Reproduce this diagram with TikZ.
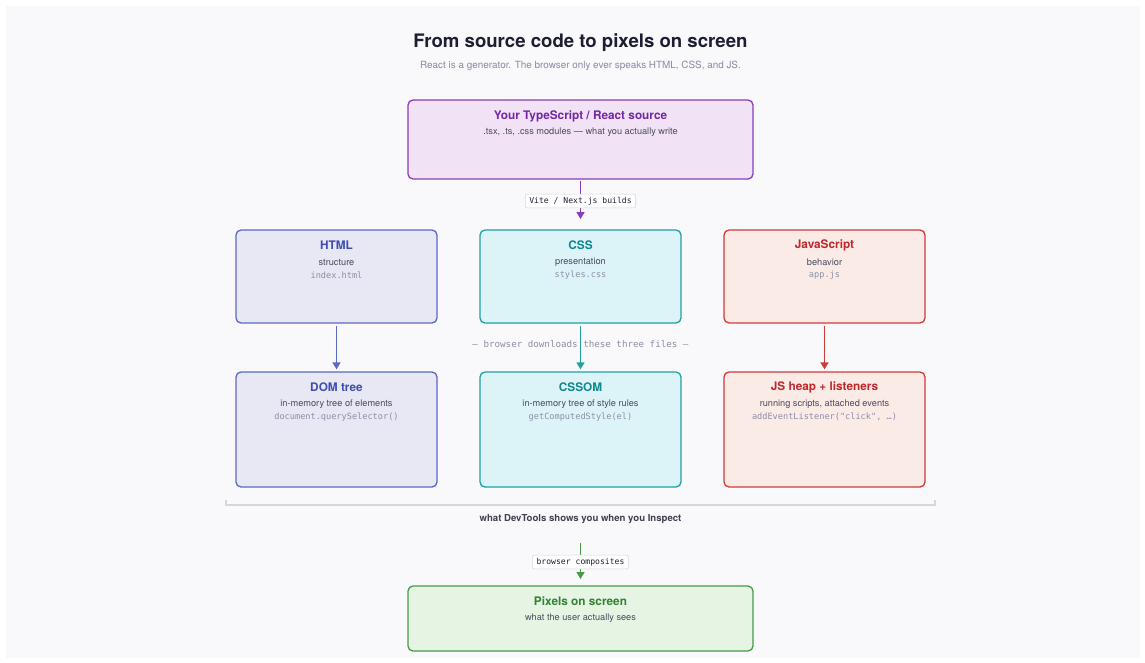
\documentclass[tikz,border=0pt]{standalone}
\usepackage{fontspec}
\setmainfont{TeX Gyre Heros}
\setmonofont{DejaVu Sans Mono}
\usetikzlibrary{arrows.meta,calc}
\definecolor{panel}{HTML}{F9F9FB}
\definecolor{ink}{HTML}{1E1E32}
\definecolor{sub}{HTML}{8A8AA2}
\definecolor{body}{HTML}{4A4A5E}
\definecolor{mono}{HTML}{8E8EA4}
\definecolor{purB}{HTML}{8A3DB8}\definecolor{purF}{HTML}{F1E3F5}\definecolor{purT}{HTML}{7526A8}
\definecolor{indB}{HTML}{5A68C4}\definecolor{indF}{HTML}{E8E7F4}\definecolor{indT}{HTML}{3E4EB0}
\definecolor{tealB}{HTML}{22A0A0}\definecolor{tealF}{HTML}{DCF4F8}\definecolor{tealT}{HTML}{11878F}
\definecolor{redB}{HTML}{D03A3A}\definecolor{redF}{HTML}{FAEBE7}\definecolor{redT}{HTML}{C0282C}
\definecolor{grnB}{HTML}{4A9A48}\definecolor{grnF}{HTML}{E6F4E4}\definecolor{grnT}{HTML}{2E852E}
\definecolor{rule}{HTML}{D6D6DE}
\tikzset{
  x=1pt,y=-1pt,
  box/.style={draw=#1B,fill=#1F,line width=1.3pt,rounded corners=5pt,inner sep=0pt,minimum width=201pt,minimum height=93pt},
  ttl/.style={text=#1T,font=\fontsize{11.8}{14}\selectfont\bfseries,inner sep=0pt,anchor=center,yshift=-1.2pt},
  bod/.style={text=body,font=\fontsize{9.2}{11}\selectfont,inner sep=0pt,yshift=-1.2pt},
  mon/.style={text=mono,font=\fontsize{8.6}{10}\ttfamily,inner sep=0pt,yshift=-1pt},
  tag/.style={draw=rule,fill=white,rounded corners=2pt,line width=0.6pt,font=\fontsize{8.1}{10}\ttfamily,text=ink,inner xsep=4pt,inner ysep=3pt,yshift=-1pt},
  arr/.style={draw=#1,line width=1.4pt,-{Triangle[length=7pt,width=8pt]}},
}
\begin{document}
\begin{tikzpicture}
\useasboundingbox (0,0) rectangle (1145,662);
\fill[panel] (6,6) rectangle (1140,658);
% title
\node[text=ink,font=\fontsize{18.6}{22}\selectfont\bfseries,inner sep=0pt] (title) at (580.5,42.5) {From source code to pixels on screen};
\node[text=sub,font=\fontsize{9.9}{12}\selectfont,inner sep=0pt] (subtitle) at (580.5,65.5) {React is a generator. The browser only ever speaks HTML, CSS, and JS.};
% source
\node[box=pur,minimum width=345pt,minimum height=79pt] (src) at (580.5,139.5) {};
\node[ttl=pur] (srcT) at (580.5,115) {Your TypeScript / React source};
\node[bod] (srcB) at (580.5,131) {.tsx, .ts, .css modules — what you actually write};
% row 1
\node[box=ind] (html) at (336.5,276.5) {};
\node[ttl=ind] (htmlT) at (336.5,244) {HTML};
\node[bod] (htmlB) at (336.5,261) {structure};
\node[mon] (htmlM) at (336.5,274) {index.html};
\node[box=teal] (css) at (580.5,276.5) {};
\node[ttl=teal] (cssT) at (580.5,244) {CSS};
\node[bod] (cssB) at (580.5,261) {presentation};
\node[mon] (cssM) at (580.5,274) {styles.css};
\node[box=red] (js) at (824.5,276.5) {};
\node[ttl=red] (jsT) at (824.5,244) {JavaScript};
\node[bod] (jsB) at (824.5,261) {behavior};
\node[mon] (jsM) at (824.5,274) {app.js};
% row 2
\node[box=ind,minimum height=115pt] (dom) at (336.5,429.5) {};
\node[ttl=ind] (domT) at (336.5,386) {DOM tree};
\node[bod] (domB) at (336.5,403) {in-memory tree of elements};
\node[mon] (domM) at (336.5,416) {document.querySelector()};
\node[box=teal,minimum height=115pt] (cssom) at (580.5,429.5) {};
\node[ttl=teal] (cssomT) at (580.5,386) {CSSOM};
\node[bod] (cssomB) at (580.5,403) {in-memory tree of style rules};
\node[mon] (cssomM) at (580.5,416) {getComputedStyle(el)};
\node[box=red,minimum height=115pt] (heap) at (824.5,429.5) {};
\node[ttl=red] (heapT) at (824.5,386) {JS heap + listeners};
\node[bod] (heapB) at (824.5,403) {running scripts, attached events};
\node[mon] (heapM) at (824.5,416) {addEventListener("click", …)};
% pixels
\node[box=grn,minimum width=345pt,minimum height=65pt] (pix) at (580.5,618.5) {};
\node[ttl=grn] (pixT) at (580.5,600) {Pixels on screen};
\node[bod] (pixB) at (580.5,617) {what the user actually sees};
% downloads note (drawn under the teal arrow)
\node[text=mono,font=\fontsize{9.2}{11}\ttfamily,inner sep=0pt] (dl) at (580.5,344) {— browser downloads these three files —};
% arrows
\coordinate (a1) at (580.5,219);
\draw[arr=purB] ($(src.south)+(0,1)$) -- (a1);
\node[tag] (viteTag) at (580.5,200) {Vite / Next.js builds};
\draw[arr=indB,shorten <=2pt,shorten >=2pt] (html.south) -- (dom.north);
\draw[arr=tealB,shorten <=2pt,shorten >=2pt] (css.south) -- (cssom.north);
\draw[arr=redB,shorten <=2pt,shorten >=2pt] (js.south) -- (heap.north);
% devtools bracket
\coordinate (brL) at (226,500);
\coordinate (brR) at (935,500);
\draw[rule,line width=1.2pt] (brL) -- ++(0,5) -- ($(brR)+(0,5)$) -- (brR);
\node[text=ink!85,font=\fontsize{9.6}{12}\selectfont\bfseries,inner sep=0pt] (dev) at (580.5,519.5) {what DevTools shows you when you Inspect};
\coordinate (g0) at (580.5,543);
\coordinate (g1) at (580.5,579);
\draw[arr=grnB] (g0) -- (g1);
\node[tag] (compTag) at (580.5,561) {browser composites};
\end{tikzpicture}
\end{document}
